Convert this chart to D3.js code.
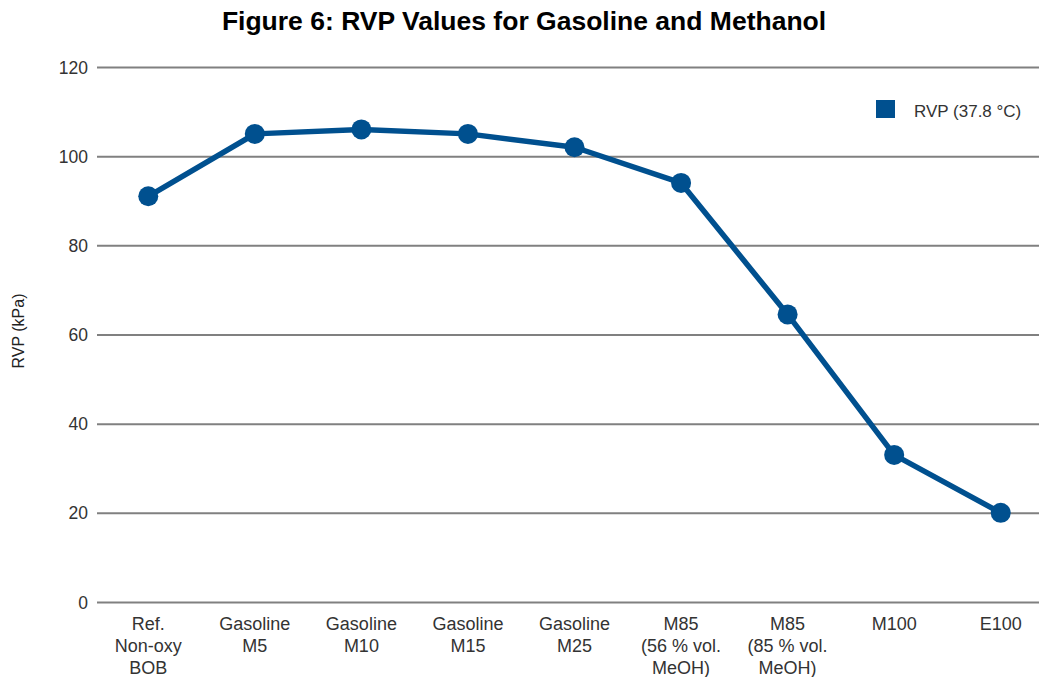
<!DOCTYPE html>
<html>
<head>
<meta charset="utf-8">
<script src="https://cdn.jsdelivr.net/npm/d3@7"></script>
<style>
  body { margin: 0; background: #fff; }
  text { font-family: "Liberation Sans", Arial, sans-serif; }
</style>
</head>
<body>
<svg class="plot" width="1039" height="677"></svg>
<script>
var categories = [
  ["Ref.", "Non-oxy", "BOB"],
  ["Gasoline", "M5"],
  ["Gasoline", "M10"],
  ["Gasoline", "M15"],
  ["Gasoline", "M25"],
  ["M85", "(56 % vol.", "MeOH)"],
  ["M85", "(85 % vol.", "MeOH)"],
  ["M100"],
  ["E100"]
];
var rvp = [91, 105, 106, 105, 102, 94, 64.5, 33, 20];
var yTicks = [0, 20, 40, 60, 80, 100, 120];

var svg = d3.select(".plot");
var blue = "#00508f";

var keys = categories.map(function(d) { return d.join(" "); });

var x = d3.scalePoint().domain(keys).range([95, 1054]).padding(0.5),
    y = d3.scaleLinear().domain([0, 120]).range([602, 67]);

// title
svg.append("text")
    .attr("x", 524)
    .attr("y", 30)
    .attr("text-anchor", "middle")
    .style("font-size", "26.5px")
    .style("font-weight", "bold")
    .attr("fill", "#000")
    .text("Figure 6: RVP Values for Gasoline and Methanol");

// gridlines
var yAxis = svg.append("g")
    .attr("transform", "translate(97,0)")
    .call(d3.axisRight(y).tickValues(yTicks).tickSize(950).tickFormat(""));
yAxis.select(".domain").remove();
yAxis.selectAll("line").attr("stroke", "#808080").attr("stroke-width", 2);

svg.selectAll(".ylab")
    .data(yTicks)
    .enter().append("text")
    .attr("class", "ylab")
    .attr("x", 88)
    .attr("y", function(d) { return y(d) + 6.5; })
    .attr("text-anchor", "end")
    .style("font-size", "17.5px")
    .attr("fill", "#333")
    .text(function(d) { return d; });

svg.append("text")
    .attr("transform", "translate(24,331)rotate(-90)")
    .attr("text-anchor", "middle")
    .style("font-size", "16px")
    .attr("fill", "#222")
    .text("RVP (kPa)");

// x labels
var xl = svg.selectAll(".xlab")
    .data(categories)
    .enter().append("text")
    .attr("class", "xlab")
    .attr("text-anchor", "middle")
    .style("font-size", "18px")
    .attr("fill", "#333");
xl.selectAll("tspan")
    .data(function(d, i) { return d.map(function(s) { return {s: s, k: keys[i]}; }); })
    .enter().append("tspan")
    .attr("x", function(d) { return x(d.k); })
    .attr("y", function(d, j) { return 630 + j * 22; })
    .text(function(d) { return d.s; });

// line
var pts = rvp.map(function(v, i) { return [x(keys[i]), y(v)]; });
svg.append("path")
    .datum(pts)
    .attr("fill", "none")
    .attr("stroke", blue)
    .attr("stroke-width", 5.5)
    .attr("stroke-linejoin", "round")
    .attr("d", d3.line());

svg.selectAll(".dot")
    .data(pts)
    .enter().append("circle")
    .attr("class", "dot")
    .attr("cx", function(d) { return d[0]; })
    .attr("cy", function(d) { return d[1]; })
    .attr("r", 10)
    .attr("fill", blue);

// legend
svg.append("rect")
    .attr("x", 876).attr("y", 100)
    .attr("width", 19).attr("height", 18)
    .attr("fill", blue);
svg.append("text")
    .attr("x", 914).attr("y", 117)
    .style("font-size", "17px")
    .attr("fill", "#333")
    .text("RVP (37.8 °C)");
</script>
</body>
</html>
